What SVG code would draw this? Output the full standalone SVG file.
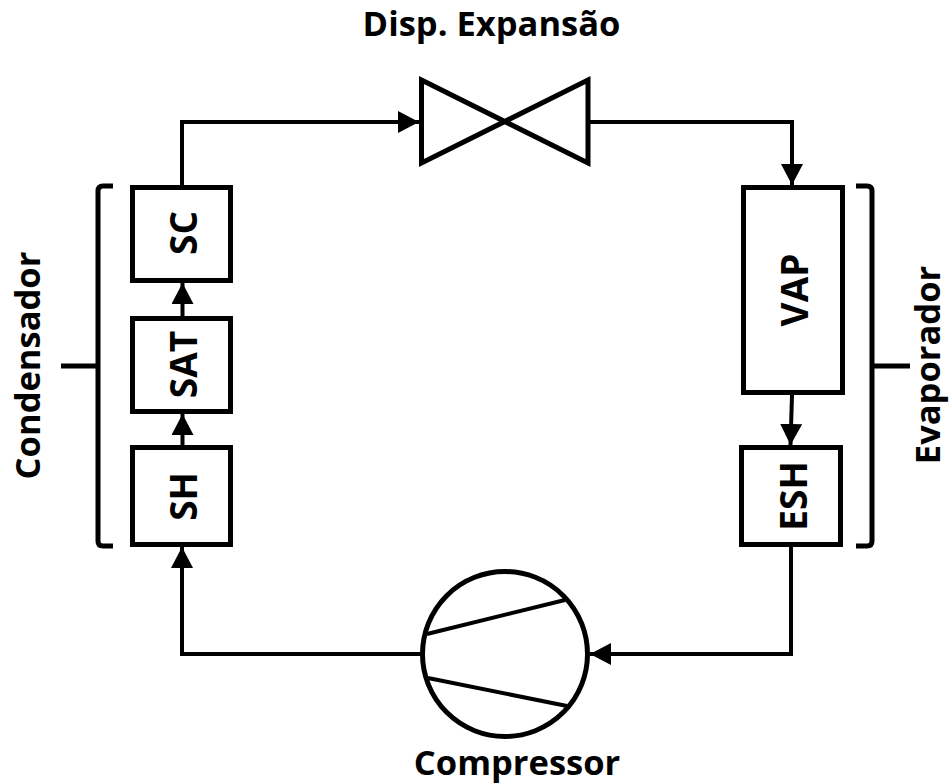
<svg xmlns="http://www.w3.org/2000/svg" width="949" height="784" viewBox="0 0 949 784">
<defs>
<marker id="arrow" markerUnits="userSpaceOnUse" markerWidth="22" markerHeight="24" refX="21" refY="11" orient="auto"><path d="M0 0L21 11L0 22Z" fill="#000"/></marker>
</defs>
<style>
.box{fill:#fff;stroke:#000;stroke-width:5}
.sym{fill:none;stroke:#000;stroke-width:5}
.thin{fill:none;stroke:#000;stroke-width:4}
.conn{fill:none;stroke:#000;stroke-width:4;marker-end:url(#arrow)}
.brace{fill:none;stroke:#000;stroke-width:5;stroke-linejoin:round}
text{font-family:"Open Sans","Noto Sans","Liberation Sans",sans-serif;font-weight:700;fill:#000;text-anchor:middle}
.lab{font-size:37px}
.big{font-size:34.500px}
</style>
<rect width="949" height="784" fill="#fff"/>
<g id="connectors">
<path class="conn" d="M182 185V122H419"/>
<path class="conn" d="M590 122H792V185"/>
<path class="conn" d="M182.500 316V283"/>
<path class="conn" d="M182.500 445V414"/>
<path class="conn" d="M792 395L790.500 445"/>
<path class="conn" d="M791 547V654H590"/>
<path class="conn" d="M420 654H182V547"/>
</g>
<g id="node-sc"><rect class="box" x="132.500" y="187.500" width="98" height="93"/><text class="lab" transform="translate(197,233) rotate(-90)">SC</text></g>
<g id="node-sat"><rect class="box" x="132.500" y="318.500" width="98" height="93"/><text class="lab" transform="translate(197,364.500) rotate(-90)">SAT</text></g>
<g id="node-sh"><rect class="box" x="132.500" y="447.500" width="98" height="97"/><text class="lab" transform="translate(197,496.500) rotate(-90)">SH</text></g>
<g id="node-vap"><rect class="box" x="743.500" y="187.500" width="99" height="205"/><text class="lab" transform="translate(808,290) rotate(-90)">VAP</text></g>
<g id="node-esh"><rect class="box" x="741.500" y="447.500" width="99" height="97"/><text class="lab" transform="translate(807,496) rotate(-90)">ESH</text></g>
<g id="node-valve"><path class="sym" d="M421.500 80L588 163V80L421.500 163Z"/><text class="big" x="491.500" y="36">Disp. Expansão</text></g>
<g id="node-compressor"><circle class="box" cx="505" cy="654" r="82.500"/><path class="thin" d="M427 634L565 600M428 678L567 706"/><text class="big" x="517" y="775">Compressor</text></g>
<g id="node-condensador"><path class="brace" d="M113 186H103Q98 186 98 191V541Q98 546 103 546H113M61 366H98"/><text class="big" transform="translate(40,365.500) rotate(-90)">Condensador</text></g>
<g id="node-evaporador"><path class="brace" d="M856 186H867Q872 186 872 191V541Q872 546 867 546H856M910 366H872"/><text class="big" transform="translate(940,365) rotate(-90)">Evaporador</text></g>
</svg>
